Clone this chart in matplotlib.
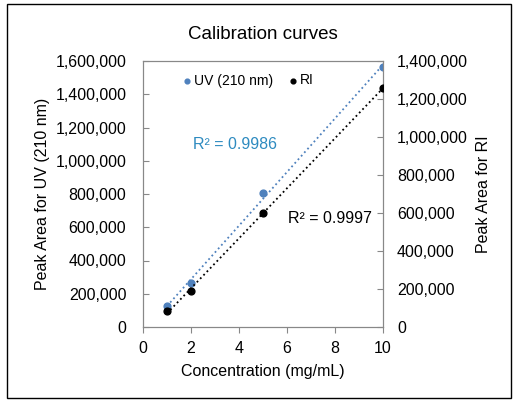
import matplotlib.pyplot as plt
from matplotlib.patches import Rectangle
import numpy as np

plt.rcParams['font.family'] = ['Liberation Sans', 'DejaVu Sans']

# Calibration data
conc = [1, 2, 5, 10]
uv_area = [126000, 265000, 806000, 1564000]
ri_area = [84000, 189000, 600000, 1258000]
uv_r2 = 'R² = 0.9986'
ri_r2 = 'R² = 0.9997'
uv_color = '#4f81bd'
uv_text_color = '#2e8bc0'

fig = plt.figure(figsize=(5.27, 4.05), dpi=100)
ax = fig.add_axes([143/527, 1-327/405, 240/527, 266/405])
ax2 = ax.twinx()

# frame around the whole chart
fig.patches.append(Rectangle((7/527, 1-398/405), 504/527, 394/405, transform=fig.transFigure,
                             fill=False, edgecolor='black', linewidth=1))

ax.scatter(conc, uv_area, color=uv_color, s=24, zorder=3, label='UV (210 nm)')
ax2.scatter(conc, ri_area, color='black', s=24, zorder=3, label='RI')

# linear trendlines
x = np.array([conc[0], conc[-1]])
p = np.polyfit(conc, uv_area, 1)
ax.plot(x, np.polyval(p, x), color=uv_color, linestyle=':', linewidth=1.3)
p = np.polyfit(conc, ri_area, 1)
ax2.plot(x, np.polyval(p, x), color='black', linestyle=':', linewidth=1.3)

ax.set_xlim(0, 10)
ax.set_ylim(0, 1600000)
ax2.set_ylim(0, 1400000)
ax.set_xticks(range(0, 11, 2))
ax.set_yticks(range(0, 1600001, 200000))
ax2.set_yticks(range(0, 1400001, 200000))
fmt = lambda v, pos: '{:,}'.format(int(v))
ax.yaxis.set_major_formatter(fmt)
ax2.yaxis.set_major_formatter(fmt)

for a in (ax, ax2):
    for s in a.spines.values():
        s.set_color('#888888')
    a.tick_params(labelsize=11.5, color='#888888', direction='in', length=4)
ax.tick_params(axis='y', pad=12)
ax2.tick_params(axis='y', pad=10)
ax.tick_params(axis='x', direction='out', length=4, pad=6)

ax.set_xlabel('Concentration (mg/mL)', fontsize=11.5, labelpad=6)
ax.set_ylabel('Peak Area for UV (210 nm)', fontsize=11.5, labelpad=4)
ax2.set_ylabel('Peak Area for RI', fontsize=11.5, labelpad=6)
ax.set_title('Calibration curves', fontsize=13.5, pad=16)

ax.text(3.83, 1095000, uv_r2, color=uv_text_color, fontsize=11.5, va='center', ha='center')
ax.text(7.8, 655000, ri_r2, color='black', fontsize=11.5, va='center', ha='center')

h1, l1 = ax.get_legend_handles_labels()
h2, l2 = ax2.get_legend_handles_labels()
ax.legend(h1 + h2, l1 + l2, loc='upper left', ncol=2, frameon=False, fontsize=10,
          markerscale=0.7, handlelength=0.8, handletextpad=0.1, columnspacing=1.0,
          bbox_to_anchor=(0.11, 1.0))

fig.savefig('out.png', dpi=100)
